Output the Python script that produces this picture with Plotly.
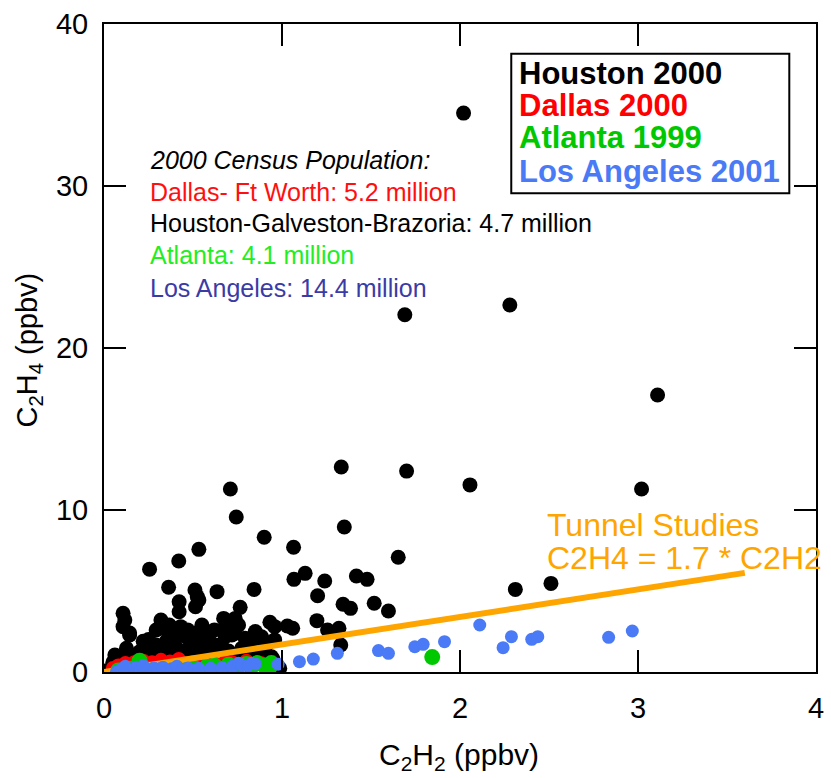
import plotly.graph_objects as go

# Houston 2000 (C2H2, C2H4) in ppbv
houston_x = [2.02, 2.28, 1.69, 3.11, 1.333, 1.70, 2.056, 3.02, 0.71, 0.743, 1.35, 0.90, 1.065, 0.533,
             1.653, 0.42, 0.256, 1.13, 1.067, 1.24, 1.418, 1.478, 2.311, 2.511, 0.363, 0.511, 0.524,
             0.635, 0.843, 1.20, 1.518, 1.598, 1.343, 1.385, 0.422, 0.422, 0.514, 0.533, 0.765, 0.107,
             0.117, 0.107, 0.32, 0.33, 0.367, 0.672, 0.737, 0.728, 0.756, 0.932, 0.959, 1.03, 1.06,
             1.196, 1.256, 1.32, 1.33, 0.144, 0.144, 0.293, 0.367, 0.431, 0.459, 0.394, 0.496, 0.533,
             0.552, 0.589, 0.626, 0.681, 0.718, 0.737, 0.793, 0.848, 0.83, 0.885, 0.774, 0.95, 0.941,
             0.987, 0.061, 0.126, 0.218, 0.293, 0.904, 0.959, 0.2, 0.385, 0.478, 0.57, 0.663,
             0.02, 0.05, 0.08, 0.10, 0.15, 0.18, 0.20, 0.24, 0.26, 0.30, 0.33, 0.36, 0.40, 0.42, 0.45,
             0.48, 0.50, 0.55, 0.60, 0.65, 0.70, 0.75, 0.80, 0.86, 0.90,
             0.25, 0.35, 0.47, 0.58, 0.62, 0.85, 0.92, 0.22, 0.55, 0.68]
houston_y = [34.5, 22.65, 22.05, 17.1, 12.65, 12.4, 11.55, 11.3, 11.3, 9.57, 8.95, 8.32, 7.70, 7.57,
             7.08, 6.85, 6.35, 6.09, 5.72, 5.62, 5.93, 5.72, 5.10, 5.47, 5.23, 5.06, 4.65,
             4.96, 5.10, 4.71, 4.24, 3.77, 4.18, 3.93, 4.34, 3.72, 4.03, 4.44, 3.99, 3.62,
             3.21, 2.80, 3.21, 2.70, 2.90, 3.31, 3.31, 3.21, 2.90, 3.07, 2.80, 2.84, 2.70,
             3.17, 2.59, 2.70, 1.67, 2.41, 2.28, 2.59, 2.28, 2.80, 2.18, 2.08, 1.87, 2.49,
             1.87, 1.98, 1.67, 2.18, 2.28, 2.39, 2.08, 2.08, 1.98, 2.18, 1.46, 0.78, 0.94,
             0.23, 1.05, 1.46, 1.36, 1.67, 1.56, 1.98, 1.25, 1.56, 1.25, 1.56, 1.56,
             0.10, 0.60, 0.90, 0.50, 1.00, 0.70, 1.10, 0.90, 1.30, 1.00, 1.40, 1.20, 1.60, 1.00, 1.30,
             1.50, 1.10, 1.40, 1.20, 1.50, 1.30, 1.10, 1.20, 1.00, 1.40,
             2.00, 1.90, 2.60, 2.30, 2.60, 2.50, 1.80, 1.90, 2.90, 2.70]

# Dallas 2000
dallas_x = [0.05, 0.08, 0.10, 0.12, 0.15, 0.17, 0.20, 0.22, 0.25, 0.27, 0.30, 0.32, 0.35, 0.37,
            0.40, 0.42, 0.45, 0.48, 0.50, 0.53, 0.56, 0.60, 0.63, 0.66, 0.70, 0.72, 0.75, 0.78,
            0.82, 0.85, 0.88, 0.92, 0.18, 0.28, 0.38, 0.58, 0.68, 0.80]
dallas_y = [0.25, 0.40, 0.30, 0.55, 0.35, 0.60, 0.45, 0.70, 0.40, 0.60, 0.50, 0.75, 0.45, 0.65,
            0.50, 0.80, 0.55, 0.35, 0.60, 0.40, 0.55, 0.35, 0.50, 0.30, 0.45, 0.60, 0.35, 0.50,
            0.30, 0.45, 0.55, 0.40, 0.20, 0.25, 0.20, 0.20, 0.65, 0.70]

# Atlanta 1999
atlanta_x = [0.08, 0.15, 0.20, 0.25, 0.30, 0.35, 0.40, 0.45, 0.50, 0.55, 0.58, 0.62, 0.65, 0.70,
             0.75, 0.80, 0.83, 0.86, 0.90, 0.93, 0.20, 0.94, 1.844]
atlanta_y = [0.10, 0.20, 0.05, 0.15, 0.10, 0.25, 0.05, 0.20, 0.30, 0.10, 0.35, 0.40, 0.20, 0.45,
             0.30, 0.50, 0.35, 0.55, 0.40, 0.30, 0.70, 0.55, 0.92]

# Los Angeles 2001
la_x = [0.07, 0.10, 0.12, 0.15, 0.18, 0.20, 0.23, 0.26, 0.28, 0.30, 0.33, 0.36, 0.38, 0.41, 0.44,
        0.47, 0.50, 0.533, 0.60, 0.663, 0.72, 0.756, 0.774, 0.811, 0.83, 0.85, 0.978, 0.22, 0.12,
        1.098, 1.176, 1.311, 1.542, 1.598, 1.746, 1.793, 1.913, 2.111, 2.242, 2.289, 2.403, 2.437,
        2.835, 2.968]
la_y = [0.02, 0.20, 0.05, 0.15, 0.30, 0.10, 0.20, 0.05, 0.25, 0.15, 0.30, 0.10, 0.20, 0.35, 0.15,
        0.25, 0.10, 0.23, 0.23, 0.27, 0.35, 0.54, 0.43, 0.43, 0.54, 0.50, 0.48, 0.40, 0.35,
        0.64, 0.80, 1.15, 1.32, 1.15, 1.56, 1.71, 1.87, 2.90, 1.50, 2.18, 2.02, 2.18,
        2.14, 2.53]

# Tunnel-study emission ratio C2H4 = 1.7 * C2H2
tunnel_ratio = 1.7
tunnel_x = [0.0, 3.6]
tunnel_y = [tunnel_ratio * v for v in tunnel_x]

x_ticks = [0, 1, 2, 3, 4]
y_ticks = [0, 10, 20, 30, 40]

FONT = "Liberation Sans, Arial, Helvetica, sans-serif"
BLACK = "#000000"
RED = "#ff0000"
GREEN = "#00c800"
BLUE = "#4a7af5"
ORANGE = "#ffa500"

fig = go.Figure()


def add_points(xs, ys, color, size):
    fig.add_trace(go.Scatter(x=xs, y=ys, mode="markers",
                             marker=dict(color=color, size=size, line=dict(width=0)),
                             showlegend=False, cliponaxis=True))


add_points(houston_x, houston_y, BLACK, 15)
add_points(dallas_x, dallas_y, RED, 14)
add_points(atlanta_x, atlanta_y, GREEN, 16)
fig.add_trace(go.Scatter(x=tunnel_x, y=tunnel_y, mode="lines",
                         line=dict(color=ORANGE, width=6), showlegend=False))
add_points(la_x, la_y, BLUE, 13)

axis_common = dict(showgrid=False, zeroline=False, showline=True, linecolor="black", linewidth=2,
                   mirror="ticks", ticks="inside", ticklen=22, tickwidth=2, tickcolor="black",
                   tickfont=dict(family=FONT, size=29, color="black"))

fig.update_xaxes(range=[0, 4], tickvals=x_ticks, ticktext=[str(v) for v in x_ticks],
                 ticklabelstandoff=9, ticklabeloverflow="allow", **axis_common)
fig.update_yaxes(range=[0, 40], tickvals=y_ticks, ticktext=[str(v) for v in y_ticks],
                 ticklabelstandoff=8, **axis_common)

annotations = [
    dict(text="C<sub>2</sub>H<sub>2</sub> (ppbv)", x=0.499, y=-0.13, font=dict(size=30, color="black"),
         xanchor="center", yanchor="middle"),
    dict(text="C<sub>2</sub>H<sub>4</sub> (ppbv)", x=-0.106, y=0.497, textangle=-90,
         font=dict(size=29, color="black"), xanchor="center", yanchor="middle"),
    # census notes
    dict(text="<i>2000 Census Population:</i>", x=0.0611, y=0.790, font=dict(size=25, color="black")),
    dict(text="Dallas- Ft Worth: 5.2 million", x=0.0611, y=0.741, font=dict(size=25, color="#ff1010")),
    dict(text="Houston-Galveston-Brazoria: 4.7 million", x=0.0611, y=0.693, font=dict(size=25, color="black")),
    dict(text="Atlanta: 4.1 million", x=0.0611, y=0.644, font=dict(size=25, color="#22ee22")),
    dict(text="Los Angeles: 14.4 million", x=0.0611, y=0.593, font=dict(size=25, color="#3b3ba6")),
    # legend entries
    dict(text="<b>Houston 2000</b>", x=0.5806, y=0.924, font=dict(size=31, color=BLACK)),
    dict(text="<b>Dallas 2000</b>", x=0.5806, y=0.874, font=dict(size=31, color=RED)),
    dict(text="<b>Atlanta 1999</b>", x=0.5806, y=0.825, font=dict(size=31, color=GREEN)),
    dict(text="<b>Los Angeles 2001</b>", x=0.5806, y=0.773, font=dict(size=31, color=BLUE)),
    # tunnel ratio label
    dict(text="Tunnel Studies", x=0.619, y=0.2261, font=dict(size=32, color=ORANGE)),
    dict(text="C2H4 = 1.7 * C2H2", x=0.619, y=0.1759, font=dict(size=32, color=ORANGE)),
]
for a in annotations:
    a.setdefault("xanchor", "left")
    a.setdefault("yanchor", "middle")
    a["font"]["family"] = FONT
    fig.add_annotation(xref="paper", yref="paper", showarrow=False, **a)

# legend frame
fig.add_shape(type="rect", xref="paper", yref="paper", x0=0.572, x1=0.9625, y0=0.739, y1=0.954,
              line=dict(color="black", width=2), fillcolor="white", layer="below")

fig.update_layout(width=831, height=778, margin=dict(l=104, r=7, t=24, b=106),
                  plot_bgcolor="white", paper_bgcolor="white", font=dict(family=FONT))

fig.write_html("out.html")
